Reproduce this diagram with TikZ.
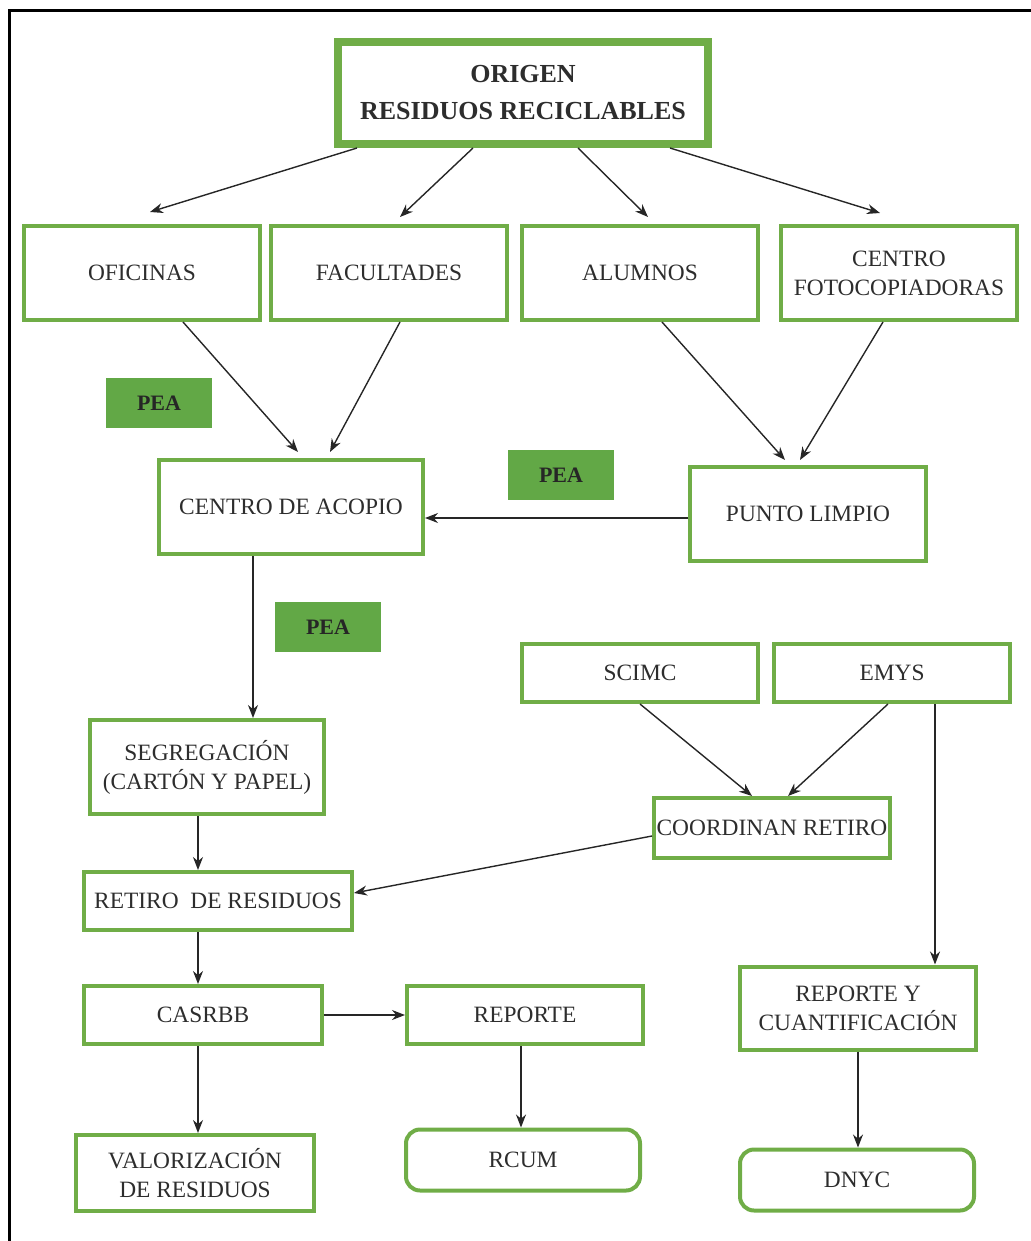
\documentclass[tikz,border=0pt]{standalone}
\usepackage{fontspec}
\setmainfont{Liberation Serif}
\usetikzlibrary{positioning, arrows.meta}
\definecolor{boxgreen}{RGB}{112,173,71}
\definecolor{peagreen}{RGB}{98,168,70}
\definecolor{textgray}{RGB}{45,45,45}

\begin{document}
\begin{tikzpicture}[x=0.5pt, y=-0.5pt, >={Stealth[length=6.5pt, width=5pt]},
		box/.style={draw=boxgreen, line width=2pt, rectangle, minimum width=118pt, minimum height=47pt, align=center, text=textgray, font=\fontsize{11.7}{14.5}\selectfont, inner sep=1pt},
		roundbox/.style={box, rounded corners=7pt},
		pea/.style={rectangle, fill=peagreen, minimum width=53pt, minimum height=25pt, text=black!85, font=\fontsize{11}{13}\selectfont\bfseries},
		link/.style={->, line width=0.7pt, draw=black!85}]
		\useasboundingbox (0,0) rectangle (1031,1241);
		\draw[line width=1.5pt] (9,1245) -- (9,11) -- (1035,11);

		\node[box, line width=4pt, minimum width=185pt, minimum height=51pt, font=\fontsize{13}{18.5}\selectfont\bfseries] (origen) at (523,93) {ORIGEN\\RESIDUOS RECICLABLES};
		\node[box] (oficinas) at (142,273) {OFICINAS};
		\node[box] (facultades) at (389,273) {FACULTADES};
		\node[box] (alumnos) at (640,273) {ALUMNOS};
		\node[box] (fotocopia) at (899,273) {CENTRO\\FOTOCOPIADORAS};
		\node[pea] (pea1) at (159,403) {PEA};
		\node[box, minimum width=132pt] (acopio) at (291,507) {CENTRO DE ACOPIO};
		\node[pea] (pea2) at (561,475) {PEA};
		\node[box] (limpio) at (808,514) {PUNTO LIMPIO};
		\node[pea] (pea3) at (328,627) {PEA};
		\node[box, minimum height=29pt] (scimc) at (640,673) {SCIMC};
		\node[box, minimum height=29pt] (emys) at (892,673) {EMYS};
		\node[box, minimum width=117pt] (segregacion) at (207,767) {SEGREGACIÓN\\(CARTÓN Y PAPEL)};
		\node[box, minimum height=30pt] (coordinan) at (772,828) {COORDINAN RETIRO};
		\node[box, minimum width=134pt, minimum height=29pt] (retiro) at (218,901) {RETIRO\ \ DE RESIDUOS};
		\node[box, minimum width=119pt, minimum height=29pt] (casrbb) at (203,1015) {CASRBB};
		\node[box, minimum height=29pt] (reporte) at (525,1015) {REPORTE};
		\node[box, minimum height=41.5pt] (cuantif) at (858,1008) {REPORTE Y\\CUANTIFICACIÓN};
		\node[box, minimum width=119pt, minimum height=38pt] (valoriz) at (195,1173) {VALORIZACIÓN\\DE RESIDUOS};
		\node[roundbox, minimum width=117pt, minimum height=30.5pt] (rcum) at (523,1160) {RCUM};
		\node[roundbox, minimum width=117pt, minimum height=30.5pt] (dnyc) at (857,1180) {DNYC};

		% origen hacia las fuentes
		\draw[link] ([xshift=-83pt]origen.south) -- ([xshift=4pt, yshift=6pt]oficinas.north);
		\draw[link] ([xshift=-25pt]origen.south) -- ([xshift=5.5pt, yshift=3.5pt]facultades.north);
		\draw[link] ([xshift=27.5pt]origen.south) -- ([xshift=4pt, yshift=3.5pt]alumnos.north);
		\draw[link] ([xshift=73.5pt]origen.south) -- ([xshift=-9.5pt, yshift=5.5pt]fotocopia.north);

		% acopio y punto limpio
		\draw[link] ([xshift=20.5pt]oficinas.south) -- ([xshift=3.5pt, yshift=3pt]acopio.north);
		\draw[link] ([xshift=5.5pt]facultades.south) -- ([xshift=19.5pt, yshift=3pt]acopio.north);
		\draw[link] ([xshift=11pt]alumnos.south) -- ([xshift=-11.5pt, yshift=2.5pt]limpio.north);
		\draw[link] ([xshift=-8pt]fotocopia.south) -- ([xshift=-4pt, yshift=2.5pt]limpio.north);
		\draw[link] ([yshift=-2pt]limpio.west) -- ([yshift=-2pt]limpio.west -| acopio.east);

		% cadena izquierda
		\draw[link] ([xshift=-19pt]acopio.south) -- ([xshift=-19pt]acopio.south |- segregacion.north);
		\draw[link] ([xshift=-4.5pt]segregacion.south) -- ([xshift=-4.5pt]segregacion.south |- retiro.north);
		\draw[link] ([xshift=-10pt]retiro.south) -- ([xshift=-10pt]retiro.south |- casrbb.north);
		\draw[link] ([xshift=-2.5pt]casrbb.south) -- ([xshift=-2.5pt]casrbb.south |- valoriz.north);
		\draw[link] (casrbb.east) -- (reporte.west);
		\draw[link] ([xshift=-2pt]reporte.south) -- ([xshift=-2pt]reporte.south |- rcum.north);

		% cadena derecha
		\draw[link] (scimc.south) -- ([xshift=-10pt]coordinan.north);
		\draw[link] ([xshift=-2pt]emys.south) -- ([xshift=8pt]coordinan.north);
		\draw[link] ([xshift=21.5pt]emys.south) -- ([xshift=21.5pt]emys.south |- cuantif.north);
		\draw[link] ([yshift=-4pt]coordinan.west) -- ([yshift=4pt]retiro.east);
		\draw[link] (cuantif.south) -- (cuantif.south |- dnyc.north);
	\end{tikzpicture}
\end{document}
